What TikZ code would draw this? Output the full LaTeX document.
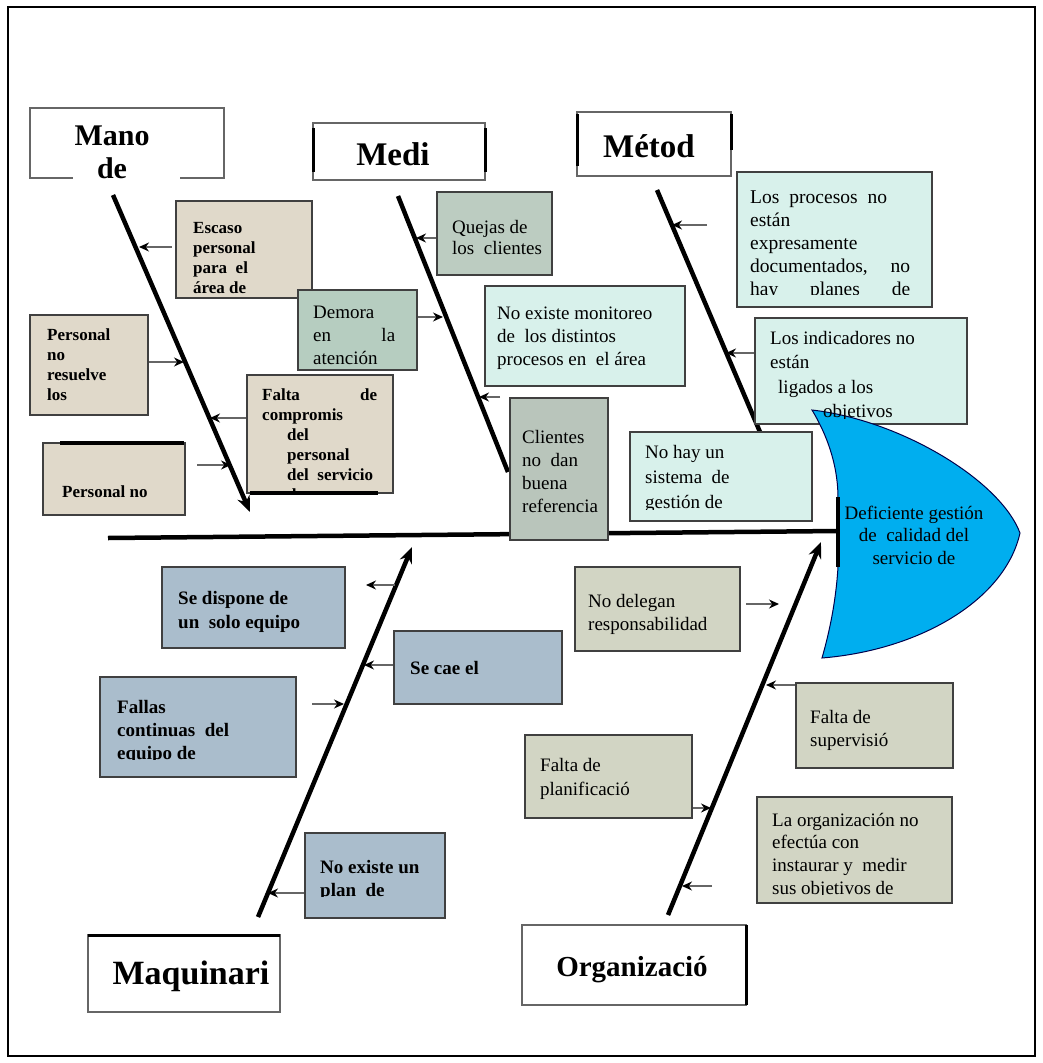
\documentclass[tikz,border=0pt]{standalone}
\usepackage{fontspec}
\setmainfont{Liberation Serif}
\usetikzlibrary{arrows.meta,fit}
\definecolor{manoC}{HTML}{E0D9CA}
\definecolor{quejasC}{HTML}{BCCCC1}
\definecolor{demoraC}{HTML}{B6CDC0}
\definecolor{cyanC}{HTML}{D8F1EB}
\definecolor{clientesC}{HTML}{B9C5BB}
\definecolor{maqC}{HTML}{AABDCC}
\definecolor{orgC}{HTML}{D2D5C4}
\definecolor{headC}{HTML}{00AEEF}
\begin{document}
\begin{tikzpicture}[x=1pt,y=-1pt,
  catbox/.style={draw=black!60, line width=1.5pt, fill=white, inner sep=0pt},
  sbox/.style={draw=black!75, line width=1.5pt, inner sep=0pt},
  txt/.style={anchor=north west, inner sep=0pt, align=left},
  bsm/.style={font=\fontsize{17}{20}\selectfont\bfseries},
  bmd/.style={font=\fontsize{19}{23}\selectfont\bfseries},
  rg/.style={font=\fontsize{19}{23}\selectfont},
  cattxt/.style={anchor=base, inner sep=0pt},
  bone/.style={line width=4.5pt, black},
  bonearr/.style={line width=4.5pt, black, -{Stealth[length=16pt,width=13pt]}},
  arr/.style={draw=black!60, line width=1.3pt, -{Stealth[length=10pt,width=9pt,color=black]}},
]
\useasboundingbox (0,0) rectangle (1042,1063);
\draw[line width=2pt] (8,7) rectangle (1035,1056);

% category boxes
\node[catbox, fit={(30,108) (224,178)}] (mano) {};
\fill[white] (73,164) rectangle (180,184);
\node[cattxt, font=\fontsize{30}{30}\selectfont\bfseries] (manoT) at (112,145) {Mano};
\node[cattxt, font=\fontsize{30}{30}\selectfont\bfseries] (manoD) at (112,178) {de};
\node[catbox, fit={(313,123) (485,180)}] (medi) {};
\draw[line width=3pt] (313,128) -- (313,172) (485,128) -- (485,172);
\node[cattxt, font=\fontsize{33}{33}\selectfont\bfseries] (mediT) at (393,165) {Medi};
\node[catbox, fit={(577,112) (731,176)}] (metod) {};
\draw[line width=3pt] (577,114) -- (577,166) (731,114) -- (731,150);
\node[cattxt, font=\fontsize{33}{33}\selectfont\bfseries] (metodT) at (649,157) {Métod};
\node[catbox, fit={(88,935) (280,1012)}] (maq) {};
\draw[line width=3pt] (88,935) -- (280,935);
\node[cattxt, font=\fontsize{34}{34}\selectfont\bfseries] (maqT) at (191,984) {Maquinari};
\node[catbox, fit={(522,925) (746,1005)}] (org) {};
\draw[line width=3pt] (746,925) -- (746,1005);
\node[cattxt, font=\fontsize{29}{29}\selectfont\bfseries] (orgT) at (632,976) {Organizació};

% spine
\coordinate (spL) at (108,538);
\coordinate (spR) at (838,531);
\draw[line width=4.5pt] (spL) -- (spR);

% bone coordinates
\coordinate (manoTop) at (113,195);  \coordinate (manoEnd) at (250,512);
\coordinate (mediTop) at (398,196);  \coordinate (mediEnd) at (508,472);
\coordinate (metTop) at (657,190);   \coordinate (metEnd) at (760,432);
\coordinate (maqBot) at (258,917);   \coordinate (maqEnd) at (412,547);
\coordinate (orgBot) at (668,915);   \coordinate (orgEnd) at (821,542);

\draw[bone] (mediTop) -- (mediEnd);
\draw[bone] (metTop) -- (metEnd);

% ---- Mano de boxes
\node[sbox, fill=manoC, fit={(176,201) (312,298)}] (b1) {};
\begin{scope}\clip (176,201) rectangle (312,293.5);
\node[txt, bsm] (t1) at (193,219) {\strut Escaso\\personal\\para\ \ el\\área de};
\end{scope}
\node[sbox, fill=manoC, fit={(30,315) (148,415)}] (b2) {};
\node[txt, bsm] (t2) at (47,326) {\strut Personal\\no\\resuelve\\los};
\node[sbox, fill=manoC, fit={(247,375) (393,493)}] (b3) {};
\begin{scope}\clip (247,375) rectangle (393,493);
\node[txt, bsm] (t3) at (262,386) {\strut\hbox to 115pt{Falta\hfill de}\\compromis\\\hspace*{25pt}del\\\hspace*{25pt}personal\\\hspace*{25pt}del\ \ servicio\\\hspace*{25pt}de};
\end{scope}
\draw[line width=4pt] (250,493) -- (378,493);
\node[sbox, fill=manoC, fit={(43,443) (185,515)}] (b4) {};
\begin{scope}\clip (43,443) rectangle (185,497.5);
\node[txt, bsm] (t4) at (62,483) {\strut Personal no};
\end{scope}
\draw[line width=4pt] (60,443) -- (184,443);

% ---- Medi boxes
\node[sbox, fill=quejasC, fit={(437,192) (552,275)}] (b5) {};
\node[txt, rg, font=\fontsize{19}{21}\selectfont] (t5) at (452,218.3) {\strut Quejas de\\los\ \ clientes};
\node[sbox, fill=demoraC, fit={(298,290) (417,370)}] (b6) {};
\node[txt, rg] (t6) at (313,301.9) {\strut Demora\\\hbox to 82pt{en\hfill la}\\atención};
\node[sbox, fill=cyanC, fit={(485,286) (685,386)}] (b7) {};
\node[txt, rg] (t7) at (497,302.9) {\strut No existe monitoreo\\de\ \ los distintos\\procesos en\ \ el área};
\node[sbox, fill=clientesC, fit={(510,398) (608,540)}] (b8) {};
\node[txt, rg] (t8) at (522,426.9) {\strut Clientes\\no\ \ dan\\buena\\referencia};
\node[sbox, fill=cyanC, fit={(630,432) (812,521)}] (b9) {};
\begin{scope}\clip (630,432) rectangle (812,509);
\node[txt, font=\fontsize{19}{25}\selectfont] (t9) at (645,440.5) {\strut No hay un\\sistema\ \ de\\gestión de};
\end{scope}

% ---- Metodo boxes
\node[sbox, fill=cyanC, fit={(737,172) (932,307)}] (b10) {};
\begin{scope}\clip (737,172) rectangle (932,294);
\node[txt, font=\fontsize{19.5}{23}\selectfont] (t10) at (750,186.9) {\strut\hbox to 137pt{Los\hfill procesos\hfill no}\\están\\expresamente\\\hbox to 160pt{documentados,\hfill no}\\\hbox to 160pt{hay\hfill planes\hfill de}};
\end{scope}
\node[sbox, fill=cyanC, fit={(755,318) (967,424)}] (b11) {};

% ---- fish head
\draw[fill=headC, draw=black!70!blue, line width=1pt]
  (812,410) .. controls (830,440) and (838,470) .. (838,498) -- (838,567)
  .. controls (836,600) and (830,630) .. (822,658)
  .. controls (920,650) and (1005,600) .. (1020,533)
  .. controls (1000,480) and (900,420) .. (812,410) -- cycle;
\draw[line width=4.5pt] (838,497) -- (838,567);
\node[anchor=north, inner sep=0pt, align=center, font=\fontsize{19}{22.5}\selectfont] (head) at (914,503.25) {\strut Deficiente gestión\\de\ \ calidad del\\servicio de};
\begin{scope}\clip (755,318) rectangle (967,418.5);
\node[txt, font=\fontsize{19}{24.5}\selectfont] (t11) at (770,326.85) {\strut Los indicadores no\\están\\\hspace*{8pt}ligados a los\\\hspace*{53pt}objetivos};
\end{scope}

% ---- Maquinaria boxes
\node[sbox, fill=maqC, fit={(162,567) (345,648)}] (b12) {};
\node[txt, font=\fontsize{19}{24}\selectfont\bfseries] (t12) at (178,587.2) {\strut Se dispone de\\un\ \ solo equipo};
\node[sbox, fill=maqC, fit={(394,631) (562,704)}] (b13) {};
\node[txt, bmd] (t13) at (410,657.9) {\strut Se cae el};
\node[sbox, fill=maqC, fit={(100,677) (296,777)}] (b14) {};
\begin{scope}\clip (100,677) rectangle (296,759);
\node[txt, bmd] (t14) at (117,696.9) {\strut Fallas\\continuas\ \ del\\equipo de};
\end{scope}
\node[sbox, fill=maqC, fit={(305,833) (445,918)}] (b15) {};
\begin{scope}\clip (305,833) rectangle (445,896);
\node[txt, bmd] (t15) at (320,856.9) {\strut No existe un\\plan\ \ de};
\end{scope}

% ---- Organizacion boxes
\node[sbox, fill=orgC, fit={(575,567) (740,651)}] (b16) {};
\node[txt, rg] (t16) at (588,590.9) {\strut No delegan\\responsabilidad};
\node[sbox, fill=orgC, fit={(796,683) (953,768)}] (b17) {};
\node[txt, rg] (t17) at (810,706.9) {\strut Falta de\\supervisió};
\node[sbox, fill=orgC, fit={(525,735) (692,818)}] (b18) {};
\node[txt, font=\fontsize{19}{24}\selectfont] (t18) at (540,754.2) {\strut Falta de\\planificació};
\node[sbox, fill=orgC, fit={(757,797) (952,903)}] (b19) {};
\begin{scope}\clip (757,797) rectangle (952,894.5);
\node[txt, font=\fontsize{19}{22.7}\selectfont] (t19) at (772,810.1) {\strut La organización no\\efectúa con\\instaurar y\ \ medir\\sus objetivos de};
\end{scope}

% ---- bones over boxes
\draw[bonearr] (manoTop) -- (manoEnd);
\draw[bonearr] (maqBot) -- (maqEnd);
\draw[bonearr] (orgBot) -- (orgEnd);

% ---- small arrows
\coordinate (a1s) at (172,247); \coordinate (a1) at (139,247);
\draw[arr] (a1s) -- (a1);
\coordinate (a2) at (184,362);
\draw[arr] (b2.east |- a2) -- (a2);
\coordinate (a3) at (210,418);
\draw[arr] (b3.west |- a3) -- (a3);
\coordinate (a4s) at (197,465); \coordinate (a4) at (231,465);
\draw[arr] (a4s) -- (a4);
\coordinate (a5) at (416,238);
\draw[arr] (b5.west |- a5) -- (a5);
\coordinate (a6) at (443,317);
\draw[arr] (b6.east |- a6) -- (a6);
\coordinate (a7s) at (500,397); \coordinate (a7) at (479,397);
\draw[arr] (a7s) -- (a7);
\coordinate (a10s) at (707,225); \coordinate (a10) at (672,225);
\draw[arr] (a10s) -- (a10);
\coordinate (a11) at (726,353);
\draw[arr] (b11.west |- a11) -- (a11);
\coordinate (a12s) at (395,585); \coordinate (a12) at (366,585);
\draw[arr] (a12s) -- (a12);
\coordinate (a13) at (364,665);
\draw[arr] (b13.west |- a13) -- (a13);
\coordinate (a14s) at (312,704); \coordinate (a14) at (344,704);
\draw[arr] (a14s) -- (a14);
\coordinate (a15) at (268,893);
\draw[arr] (b15.west |- a15) -- (a15);
\coordinate (a16s) at (746,604); \coordinate (a16) at (779,604);
\draw[arr] (a16s) -- (a16);
\coordinate (a17) at (766,685);
\draw[arr] (b17.west |- a17) -- (a17);
\coordinate (a18) at (711,808);
\draw[arr] (b18.east |- a18) -- (a18);
\coordinate (a19s) at (712,886); \coordinate (a19) at (682,886);
\draw[arr] (a19s) -- (a19);
\end{tikzpicture}
\end{document}
